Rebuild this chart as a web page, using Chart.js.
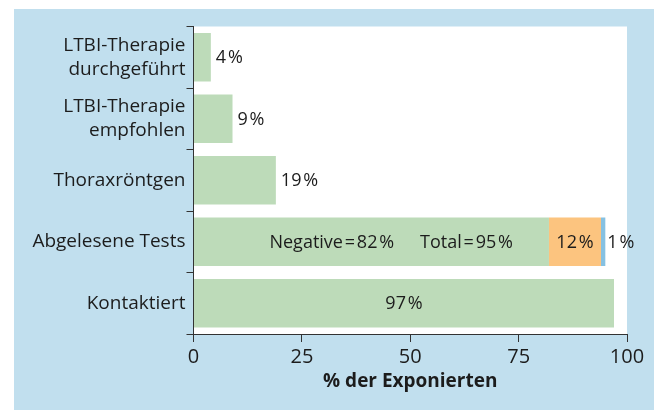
<!DOCTYPE html>
<html>
<head>
<meta charset="utf-8">
<script src="https://cdn.jsdelivr.net/npm/chart.js@4"></script>
<style>
  html, body { margin: 0; padding: 0; background: #fff; }
  #wrap { width: 654px; height: 410px; }
</style>
</head>
<body>
<div id="wrap"><canvas id="contactChart" width="654" height="410"></canvas></div>
<script>
// Daten
const categories = [['LTBI-Therapie', 'durchgeführt'], ['LTBI-Therapie', 'empfohlen'], 'Thoraxröntgen', 'Abgelesene Tests', 'Kontaktiert'];
const negativeValues = [4, 9, 19, 82, 97];
const positiveValues = [0, 0, 0, 12, 0];
const unclearValues = [0, 0, 0, 1, 0];
const xTicks = [0, 25, 50, 75, 100];
const axisTitle = '% der Exponierten';

const TS = '\u200A';
const pct = v => v + TS + '%';

const panelColor = '#c1dfee';
const textColor = '#1c1c1c';
const fontFamily = "'Open Sans', sans-serif";

// Hintergrund: blaues Feld + weiße Plotfläche
const backgroundPlugin = {
    id: 'panelBg',
    beforeDraw(chart) {
        const c = chart.ctx;
        const a = chart.chartArea;
        c.save();
        c.fillStyle = '#ffffff';
        c.fillRect(0, 0, chart.width, chart.height);
        c.fillStyle = panelColor;
        c.fillRect(14, 9, chart.width - 14, chart.height - 9);
        c.fillStyle = '#ffffff';
        c.fillRect(a.left, a.top, a.right - a.left, a.bottom - a.top);
        c.restore();
    }
};

// Beschriftungen der Balken
const labelPlugin = {
    id: 'barLabels',
    afterDatasetsDraw(chart) {
        const c = chart.ctx;
        const neg = chart.getDatasetMeta(0).data;
        const pos = chart.getDatasetMeta(1).data;
        const unc = chart.getDatasetMeta(2).data;
        c.save();
        c.font = '18px ' + fontFamily;
        c.fillStyle = textColor;
        c.textBaseline = 'middle';
        categories.forEach((cat, i) => {
            const bar = neg[i];
            const y = bar.y + 1;
            if (positiveValues[i] > 0 || unclearValues[i] > 0) {
                const total = negativeValues[i] + positiveValues[i] + unclearValues[i];
                c.textAlign = 'right';
                const totalText = 'Total' + TS + '=' + TS + pct(total);
                const totalEnd = bar.x - 36;
                c.fillText(totalText, totalEnd, y);
                const w = c.measureText(totalText).width;
                c.fillText('Negative' + TS + '=' + TS + pct(negativeValues[i]), totalEnd - w - 26, y);
                c.textAlign = 'center';
                const p = pos[i];
                c.fillText(pct(positiveValues[i]), (p.x + p.base) / 2, y);
                c.textAlign = 'left';
                c.fillText(pct(unclearValues[i]), unc[i].x + 2, y);
            } else if (negativeValues[i] > 50) {
                c.textAlign = 'center';
                c.fillText(pct(negativeValues[i]), (bar.x + bar.base) / 2, y);
            } else {
                c.textAlign = 'left';
                c.fillText(pct(negativeValues[i]), bar.x + 5, y);
            }
        });
        c.restore();
    }
};

const ctx = document.getElementById('contactChart').getContext('2d');
const contactChart = new Chart(ctx, {
    type: 'bar',
    data: {
        labels: categories,
        datasets: [
            { label: 'Negativ', data: negativeValues, backgroundColor: '#bddbb9' },
            { label: 'Positiv', data: positiveValues, backgroundColor: '#fcc47f' },
            { label: 'Unklar', data: unclearValues, backgroundColor: '#86c1e2' }
        ]
    },
    options: {
        indexAxis: 'y',
        responsive: false,
        animation: false,
        devicePixelRatio: 1,
        barPercentage: 0.79,
        categoryPercentage: 1,
        layout: { padding: { left: 0, right: 27, top: 26.5, bottom: 0 } },
        plugins: {
            legend: { display: false },
            tooltip: { enabled: false }
        },
        scales: {
            x: {
                stacked: true,
                min: 0,
                max: 100,
                afterBuildTicks: scale => { scale.ticks = xTicks.map(v => ({ value: v })); },
                afterFit: scale => { scale.height = 76; },
                grid: { drawOnChartArea: false, tickLength: 8, color: '#333' },
                border: { display: true, color: '#333', width: 1 },
                ticks: { color: textColor, padding: 3, font: { family: fontFamily, size: 20 } },
                title: {
                    display: true,
                    text: axisTitle,
                    color: textColor,
                    padding: { top: 0, bottom: 17 },
                    font: { family: fontFamily, size: 19, weight: 'bold' }
                }
            },
            y: {
                stacked: true,
                afterFit: scale => { scale.width = 193.5; },
                grid: { offset: true, drawOnChartArea: false, tickLength: 7, color: '#333' },
                border: { display: true, color: '#333', width: 1 },
                ticks: { color: textColor, padding: 1, font: { family: fontFamily, size: 19, lineHeight: 1.25 } }
            }
        }
    },
    plugins: [backgroundPlugin, labelPlugin]
});
</script>
</body>
</html>
